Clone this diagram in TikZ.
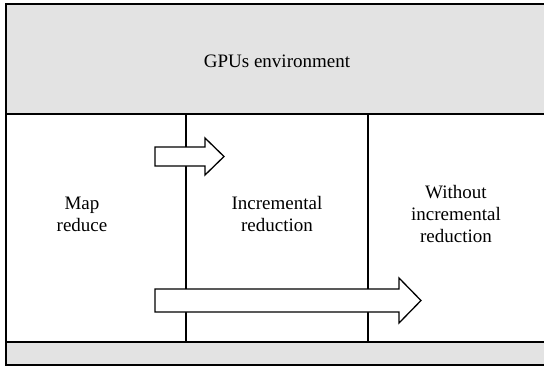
\documentclass[tikz,border=0pt]{standalone}
\usepackage{fontspec}
\setmainfont{Liberation Serif}
\begin{document}
\begin{tikzpicture}[x=1pt,y=-1pt,
  lbl/.style={align=center,inner sep=0pt,font=\fontsize{19}{22}\selectfont},
  band/.style={fill=black!11,draw=black,line width=1.6pt},
  divider/.style={draw=black,line width=1.4pt},
  fatarrow/.style={fill=white,draw=black,line width=1.3pt,line join=miter}]
\useasboundingbox (0,0) rectangle (544,368);
% outer frame and bands
\fill[white] (6,4) rectangle (548,365);
\path[band] (6,4) rectangle (548,114);
\path[band] (6,342) rectangle (548,365);
\draw[line width=1.8pt] (6,4) rectangle (548,365);
% dividers
\coordinate (d1t) at (186,114); \coordinate (d1b) at (186,342);
\coordinate (d2t) at (368,114); \coordinate (d2b) at (368,342);
\draw[divider] (d1t) -- (d1b);
\draw[divider] (d2t) -- (d2b);
% labels
\node[lbl,anchor=base] (gpu) at (277,67) {GPUs environment};
\node[lbl] (map) at (82,214) {Map\\reduce};
\node[lbl] (inc) at (277,214) {Incremental\\reduction};
\node[lbl] (wo) at (456,214) {Without\\incremental\\reduction};
% block arrows
\draw[fatarrow] (155,147) -- (205,147) -- (205,138) -- (224,156.5) -- (205,175) -- (205,166) -- (155,166) -- cycle;
\draw[fatarrow] (155,289) -- (399,289) -- (399,278) -- (421,300.5) -- (399,323) -- (399,312) -- (155,312) -- cycle;
\end{tikzpicture}
\end{document}
